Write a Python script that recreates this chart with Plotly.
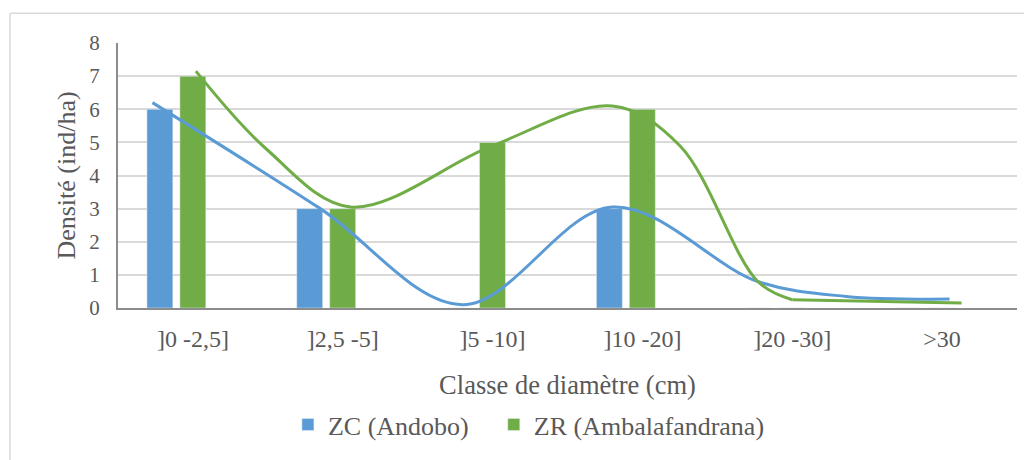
import plotly.graph_objects as go

# ---- data ----
categories = ["]0 -2,5]", "]2,5 -5]", "]5 -10]", "]10 -20]", "]20 -30]", ">30"]
zc_values = [6, 3, 0, 3, 0, 0]
zr_values = [7, 3, 5, 6, 0, 0]

# smoothed trend curves (x in category units)
zc_curve_x = [-0.27, 0.85, 1.8, 2.8, 3.77, 4.36, 5.05]
zc_curve_y = [6.2, 3.0, 0.1, 3.05, 0.8, 0.35, 0.27]
zr_curve_x = [0.02, 0.49, 1.05, 2.0, 2.8, 3.25, 3.77, 4.0]
zr_curve_y = [7.15, 4.8, 3.05, 4.9, 6.1, 4.9, 0.8, 0.25]
zr_tail_x = [4.0, 4.7, 5.13]
zr_tail_y = [0.25, 0.18, 0.15]

BLUE = "#5B9BD5"
GREEN = "#70AD47"
FONT = "Liberation Serif, Times New Roman, serif"
TXT = "#595959"

xs = list(range(len(categories)))

fig = go.Figure()
fig.add_trace(go.Bar(x=xs, y=zc_values, name="ZC (Andobo)", marker_color=BLUE,
                     offset=-0.307, width=0.173, legend="legend"))
fig.add_trace(go.Bar(x=xs, y=zr_values, name="ZR (Ambalafandrana)", marker_color=GREEN,
                     offset=-0.087, width=0.173, legend="legend2"))
fig.add_trace(go.Scatter(x=zc_curve_x, y=zc_curve_y, mode="lines", showlegend=False,
                         line=dict(color=BLUE, width=3, shape="spline", smoothing=1.0),
                         hoverinfo="skip"))
fig.add_trace(go.Scatter(x=zr_curve_x, y=zr_curve_y, mode="lines", showlegend=False,
                         line=dict(color=GREEN, width=3, shape="spline", smoothing=1.0),
                         hoverinfo="skip"))
fig.add_trace(go.Scatter(x=zr_tail_x, y=zr_tail_y, mode="lines", showlegend=False,
                         line=dict(color=GREEN, width=3),
                         hoverinfo="skip"))

legend_style = dict(orientation="h", xanchor="left", y=-0.44, yanchor="middle",
                    font=dict(size=26, family=FONT, color=TXT), itemwidth=30,
                    bgcolor="rgba(0,0,0,0)")

fig.update_layout(
    width=1024, height=452,
    margin=dict(l=110, r=15, t=35, b=150),
    paper_bgcolor="white", plot_bgcolor="white",
    barmode="overlay",
    font=dict(family=FONT, color=TXT, size=21),
    xaxis=dict(range=[-0.5, 5.5], tickmode="array", tickvals=xs, ticktext=categories,
               showgrid=False, zeroline=False, showline=True, linecolor="#8C8C8C", linewidth=2,
               ticks="", tickfont=dict(size=24, family=FONT, color=TXT), ticklabelstandoff=8,
               title=dict(text="Classe de diamètre (cm)", font=dict(size=26.5, family=FONT, color=TXT),
                          standoff=25)),
    yaxis=dict(range=[0, 8], dtick=1, showgrid=True, gridcolor="#D9D9D9", gridwidth=1.5,
               zeroline=False, showline=True, linecolor="#8C8C8C", linewidth=2, ticks="",
               tickfont=dict(size=21, family=FONT, color=TXT), ticklabelstandoff=12,
               title=dict(text="Densité (ind/ha)", font=dict(size=26, family=FONT, color=TXT),
                          standoff=6)),
    legend=dict(x=0.189, **legend_style),
    legend2=dict(x=0.418, **legend_style),
    shapes=[
        dict(type="line", xref="paper", yref="paper", x0=-0.1201, x1=1.1, y0=1.1124, y1=1.1124,
             line=dict(color="#D9D9D9", width=1.5)),
        dict(type="line", xref="paper", yref="paper", x0=-0.1201, x1=-0.1201, y0=1.1124, y1=-0.7,
             line=dict(color="#D9D9D9", width=1.5)),
    ],
)

fig.write_html("out.html")
